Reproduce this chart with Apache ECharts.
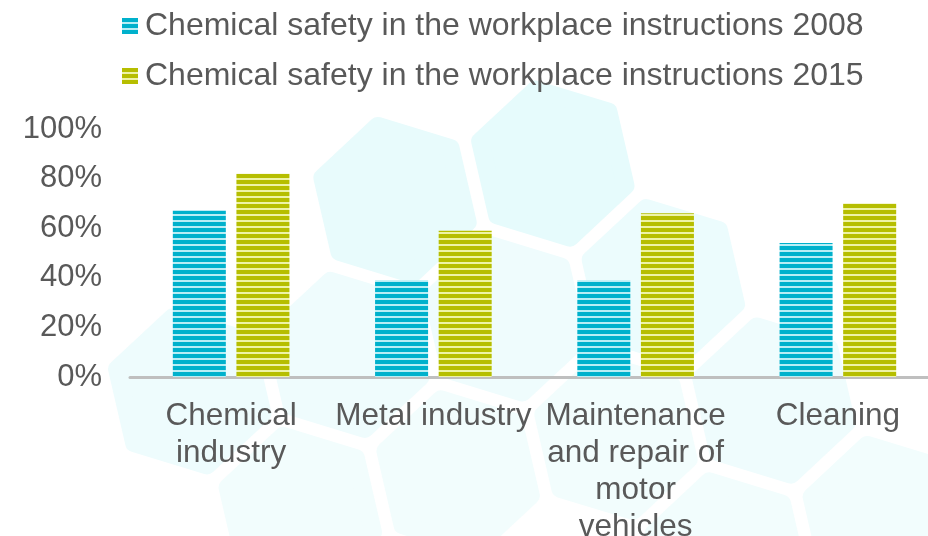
<!DOCTYPE html>
<html>
<head>
<meta charset="utf-8">
<script src="https://cdn.jsdelivr.net/npm/echarts@6/dist/echarts.min.js"></script>
<style>
  html, body { margin: 0; padding: 0; background: #fff; overflow: hidden; }
  #chart { width: 928px; height: 536px; }
</style>
</head>
<body>
<div id="chart"></div>
<script>
const categories = ['Chemical\nindustry', 'Metal industry', 'Maintenance\nand repair of\nmotor\nvehicles', 'Cleaning']
const seriesNames = [
  'Chemical safety in the workplace instructions 2008',
  'Chemical safety in the workplace instructions 2015'
]
const values2008 = [67, 39, 39, 54]
const values2015 = [82, 59, 66, 70]
const yTicks = [0, 20, 40, 60, 80, 100]

// striped fill, like the original bars
function stripes(dark, light) {
  const c = document.createElement('canvas')
  c.width = 4
  c.height = 6
  const ctx = c.getContext('2d')
  ctx.fillStyle = dark
  ctx.fillRect(0, 0, 4, 6)
  ctx.fillStyle = light
  ctx.fillRect(0, 4, 4, 2)
  return { image: c, repeat: 'repeat' }
}

// faint honeycomb in the background (decoration only)
function hexagons() {
  const origin = [395, 200]
  const step = 162
  const a1 = -13 * Math.PI / 180
  const a2 = 47 * Math.PI / 180
  const cells = [[0, 0, '#e8fbfc'], [1, 0, '#e6fbfc'], [1, 1, '#ecfcfd'], [0, 1, '#effcfd'],
    [-1, 1, '#effcfd'], [-2, 1, '#eefcfd'], [-2, 2, '#f2fdfd'], [-1, 2, '#f2fdfd'],
    [0, 2, '#f2fdfd'], [1, 2, '#effcfd'], [0, 3, '#f2fdfd'], [1, 3, '#f2fdfd']]
  return cells.map(([i, j, fill]) => {
    const cx = origin[0] + i * step * Math.cos(a1) + j * step * Math.cos(a2)
    const cy = origin[1] + i * step * Math.sin(a1) + j * step * Math.sin(a2)
    const pts = []
    for (let k = 0; k < 6; k++) {
      const ang = (-103 + 60 * k) * Math.PI / 180
      pts.push([cx + 76 * Math.cos(ang), cy + 76 * Math.sin(ang)])
    }
    return {
      type: 'polygon',
      z: -10,
      silent: true,
      shape: { points: pts },
      style: { fill: fill, stroke: fill, lineWidth: 18, lineJoin: 'round' }
    }
  })
}

const chart = echarts.init(document.getElementById('chart'))
const font = '"Liberation Sans", Arial, sans-serif'

const option = {
  backgroundColor: '#ffffff',
  textStyle: { fontFamily: font },
  graphic: hexagons(),
  legend: {
    orient: 'vertical',
    left: 122,
    top: 10,
    padding: 0,
    itemWidth: 16,
    itemHeight: 16,
    itemGap: 18,
    icon: 'rect',
    textStyle: {
      fontSize: 32,
      lineHeight: 32,
      padding: [0, 0, 0, 2],
      color: '#595959',
      fontFamily: font
    },
    data: seriesNames
  },
  grid: {
    left: 130,
    right: -11,
    top: 129,
    bottom: 159,
    containLabel: false,
    outerBoundsMode: 'none'
  },
  xAxis: {
    type: 'category',
    data: categories,
    axisLine: { lineStyle: { color: '#bfbfbf', width: 3 } },
    axisTick: { show: false },
    axisLabel: {
      interval: 0,
      fontSize: 31.5,
      lineHeight: 37,
      margin: 21,
      color: '#595959',
      fontFamily: font
    }
  },
  yAxis: {
    type: 'value',
    min: yTicks[0],
    max: yTicks[yTicks.length - 1],
    interval: 20,
    splitLine: { show: false },
    axisLine: { show: false },
    axisTick: { show: false },
    axisLabel: {
      formatter: '{value}%',
      fontSize: 31,
      margin: 28,
      color: '#595959',
      fontFamily: font
    }
  },
  series: [
    {
      name: seriesNames[0],
      type: 'bar',
      barWidth: 53,
      barGap: '20%',
      itemStyle: { color: stripes('#00b1cc', '#b8eef5') },
      data: values2008
    },
    {
      name: seriesNames[1],
      type: 'bar',
      barWidth: 53,
      barGap: '20%',
      itemStyle: { color: stripes('#b6be00', '#eef3a6') },
      data: values2015
    }
  ]
}
chart.setOption(option)
</script>
</body>
</html>
